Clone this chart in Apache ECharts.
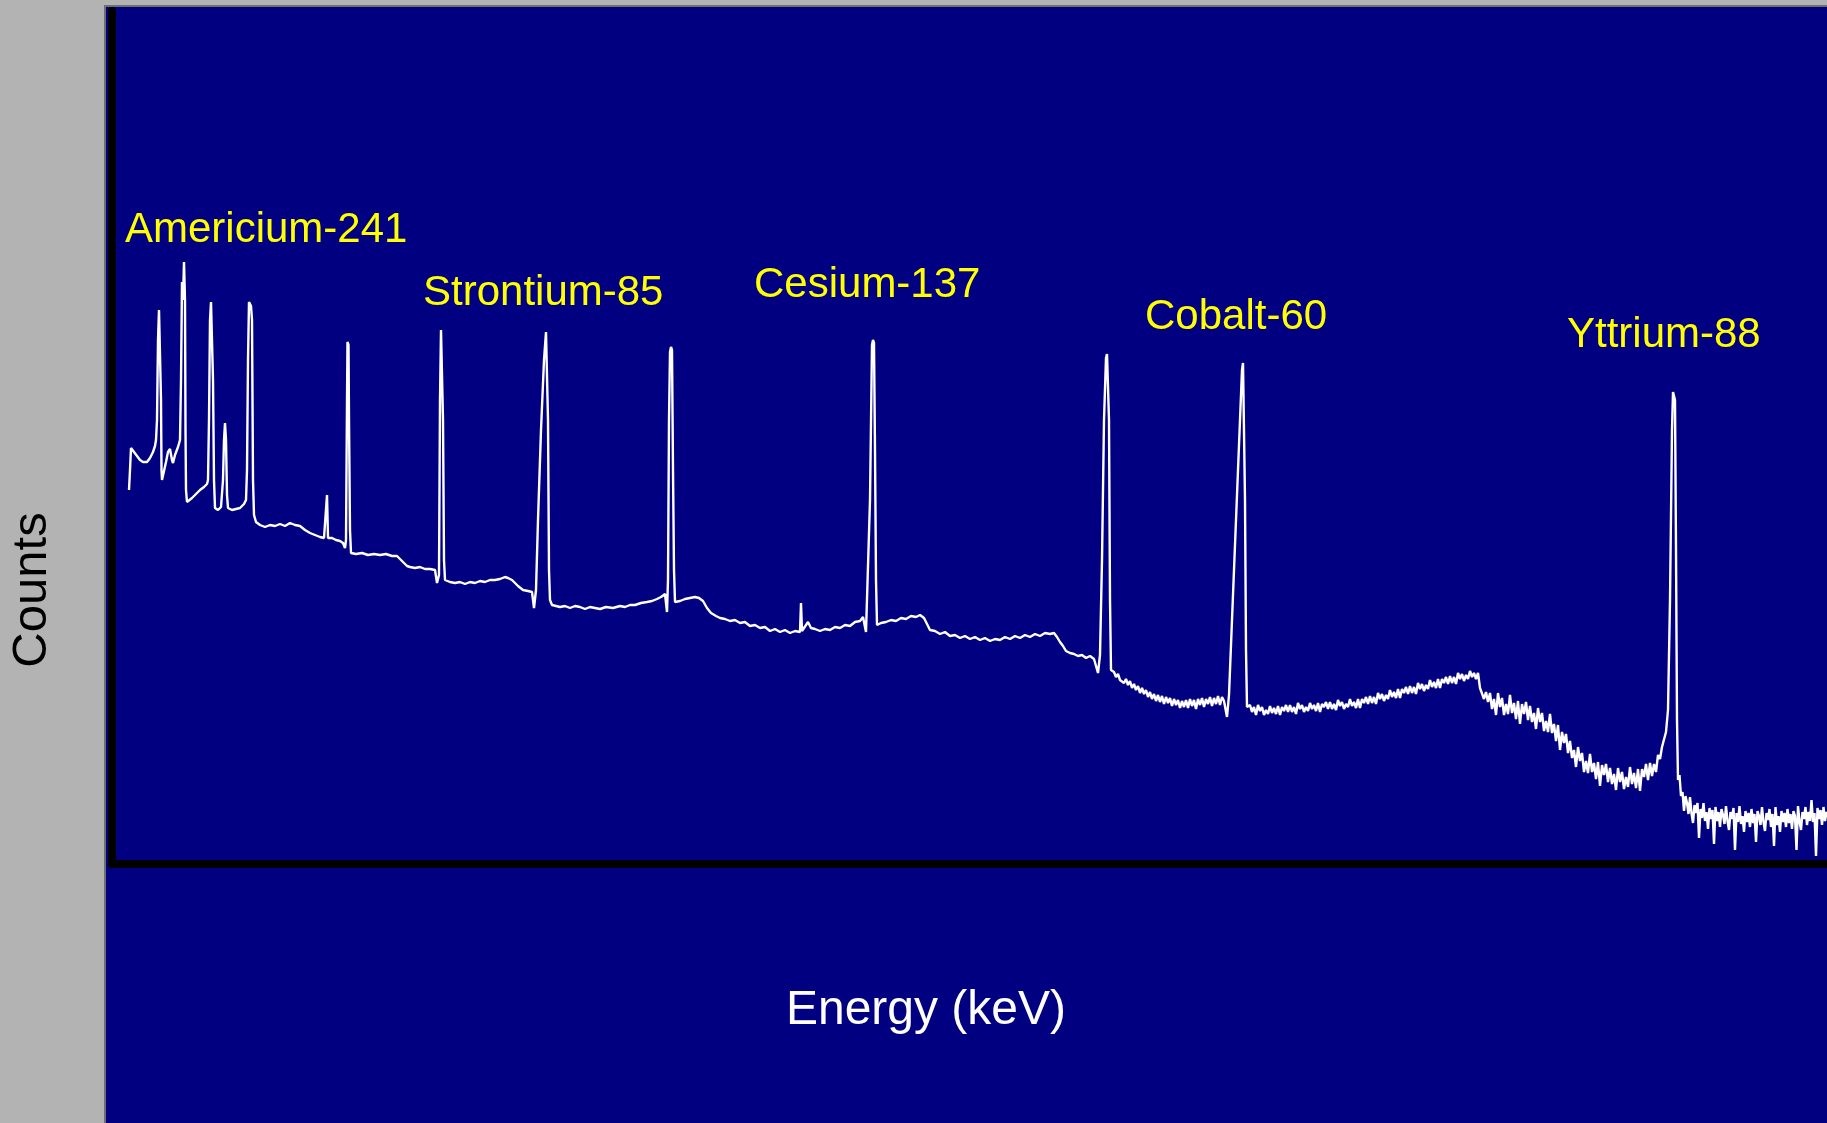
<!DOCTYPE html>
<html><head><meta charset="utf-8">
<script src="https://cdn.jsdelivr.net/npm/echarts@6/dist/echarts.min.js"></script>
<style>html,body{margin:0;padding:0;background:#b3b3b3;overflow:hidden}#chart{width:1827px;height:1123px;}</style>
</head><body><div id="chart"></div>
<script>
// Spectrum: [channel, relative counts]
const lowEnergy = [[17,374],[18,394],[19,416],[22,412],[25,408],[28,404],[31,402],[35,402],[38,406],[41,412],[43,418],[44,424],[45,444],[46,524],[47,554],[48,552],[49,464],[49.5,394],[50,384],[52,386],[54,402],[56,412],[58,415],[60,404],[61,401],[63,409],[66,417],[68,424],[69,484],[70,582],[71,564],[72,602],[73,564],[73.5,434],[74,374],[75,362],[77,361],[80,366],[84,370],[88,374],[92,377],[95,380],[96,384],[97,444],[98,544],[99,562],[100,562],[101,484],[102,384],[103,356],[106,354],[109,357],[111,384],[112,424],[113,441],[114,424],[115,369],[116,356],[120,354],[124,355],[128,356],[132,360],[134,364],[135,394],[136,504],[137,562],[138,563],[139,558],[140,544],[141,384],[142,349],[144,342],[148,339],[153,337],[158,339],[163,338],[168,340],[173,338],[178,341],[183,339],[188,338],[193,334],[198,331],[203,329],[208,327],[212,326],[214,327],[215,369],[216,326],[220,326],[224,324],[228,323],[231,321],[233,316],[234,324],[235,464],[235.5,522],[236.5,519],[237,444],[238,334],[239,311]];

const midEnergy = [[244,310],[250,311],[256,309],[262,310],[268,309],[274,310],[280,308],[285,308],[288,305],[291,302],[295,298],[298,297],[303,296],[308,297],[313,295],[318,295],[323,294],[325,281],[327,289],[328,464],[329,534],[330,532],[331,444],[332,304],[333,284],[338,282],[343,281],[348,282],[353,280],[358,282],[363,281],[368,283],[373,282],[378,284],[383,284],[388,285],[393,287],[396,286],[400,284],[403,281],[406,278],[411,274],[416,273],[420,272],[422,256],[424,274],[426,344],[429,434],[432,504],[434,532],[435,530],[436,444],[437,294],[438,264],[440,259],[444,258],[448,257],[453,258],[458,256],[463,258],[468,257],[473,255],[478,257],[483,256],[488,255],[494,257],[501,256],[508,258],[513,257],[518,259],[523,259],[529,261],[535,262],[540,263],[545,265],[549,267],[553,270],[555,252],[556,284],[557,444],[558,512],[559,517],[560,514],[561,394],[562,294],[563,262],[568,263],[573,265],[578,266],[583,267],[587,266],[591,263],[595,256],[599,251],[604,248],[608,246],
[613,245],[618,243],[623,244],[628,241],[633,242],[638,238],[643,239],[648,236],[653,237],[658,233],[663,235],[668,232],[673,234],[678,231],[683,233],[688,232],[689,261],[690,233],[694,239],[696,242],[699,236],[703,235],[708,233],[713,235],[718,234],[723,237],[728,236],[733,239],[738,238],[743,242],[748,243],[751,247],[754,232],[756,234],[758,364],[760,519],[761,524],[762,521],[763,414],[764,284],[765,239],[769,241],[774,242],[779,244],[784,243],[789,246],[794,245],[799,248],[804,247],[808,249],[812,246],[815,240],[818,234],[823,233],[828,230],[833,232],[838,228],[843,229],[848,226],[853,228],[858,225],[863,227],[868,224],[873,226],[878,223],[883,225],[888,224],[893,227],[898,225],[903,228],[908,226],[913,229],[918,227],[923,230],[928,228],[933,231],[938,230],[942,231],[945,227],[948,222],[951,218],[954,213],[958,211],[962,210],[966,208],[970,209],[974,206],[978,208],[982,205],[984,207],[986,191],[988,209],[990,304],[992,444],[994,506],[995,510],[996,508],[997,444],[998,264],[999,194]];

const highEnergy = [[1002,192],[1004,187],[1006,190],[1008,184],[1010,186],[1012,181],[1014,185],[1016,179],[1018,183],[1020,176],[1022,180],[1024,174],[1026,178],[1028,171],[1030,176],[1032,170],[1034,174],[1036,167],[1038,172],[1040,165],[1042,170],[1044,163],[1046,169],[1048,162],[1050,168],[1052,160],[1054,167],[1056,161],[1058,166],[1060,158],[1062,165],[1064,159],[1066,164],[1068,156],[1070,163],[1072,157],[1074,164],[1076,156],[1078,165],[1080,158],[1082,164],[1084,155],[1086,165],[1088,159],[1090,166],[1092,157],[1094,165],[1096,160],[1098,167],[1100,158],[1102,166],[1104,160],[1106,168],[1108,159],[1110,167],[1112,163],[1115,147],[1117,169],[1120,244],[1124,344],[1128,444],[1130,494],[1131,501],[1132,499],[1133,364],[1134,214],[1135,157],
[1138,159],[1140,152],[1142,157],[1144,149],[1146,159],[1148,153],[1150,157],[1152,149],[1154,154],[1156,150],[1158,158],[1160,151],[1162,156],[1164,150],[1166,158],[1168,149],[1170,157],[1172,153],[1174,159],[1176,152],[1178,159],[1180,152],[1182,157],[1184,150],[1186,161],[1188,155],[1190,159],[1192,152],[1194,157],[1196,153],[1198,161],[1200,155],[1202,159],[1204,153],[1206,161],[1208,152],[1210,160],[1212,157],[1214,162],[1216,155],[1218,162],[1220,155],[1222,160],[1224,154],[1226,164],[1228,158],[1230,162],[1232,155],[1234,160],[1236,157],[1238,165],[1240,158],[1242,162],[1244,156],[1246,165],[1248,156],[1250,165],[1252,161],[1254,167],[1256,160],[1258,168],[1260,161],[1262,167],[1264,160],[1266,171],[1268,165],[1270,170],[1272,163],[1274,169],[1276,165],[1278,174],[1280,167],[1282,172],[1284,166],[1286,175],[1288,166],[1290,175],[1292,171],[1294,177],[1296,170],[1298,178],[1300,171],[1302,177],[1304,170],[1306,181],[1308,175],[1310,180],[1312,173],[1314,179],[1316,175],[1318,184],[1320,177],[1322,182],[1324,176],[1326,185],[1328,176],[1330,185],[1332,181],[1334,187],[1336,180],[1338,188],[1340,181],[1342,187],[1344,180],[1346,191],[1348,185],[1350,190],[1352,183],[1354,189],[1356,185],[1358,193],[1360,187],[1362,191],[1364,185],[1366,191],[1368,176],[1370,176],[1372,165],[1374,172],[1376,162],
[1378,171],[1380,155],[1382,165],[1384,149],[1386,171],[1388,157],[1390,166],[1392,149],[1394,160],[1396,150],[1398,169],[1400,151],[1402,161],[1404,145],[1406,163],[1408,140],[1410,160],[1412,150],[1414,162],[1416,144],[1418,158],[1420,142],[1422,151],[1424,135],[1426,156],[1428,142],[1430,151],[1432,133],[1434,143],[1436,132],[1438,150],[1440,131],[1442,140],[1444,123],[1446,139],[1448,114],[1450,132],[1452,121],[1454,130],[1456,111],[1458,123],[1460,106],[1462,114],[1464,97],[1466,117],[1468,103],[1470,111],[1472,92],[1474,103],[1476,91],[1478,110],[1480,92],[1482,101],[1484,85],[1486,102],[1488,78],[1490,99],[1492,89],[1494,100],[1496,82],[1498,96],[1500,80],[1502,90],[1504,74],[1506,96],[1508,82],[1510,92],[1512,75],[1514,87],[1516,77],[1518,97],[1520,80],[1522,91],[1524,76],[1526,95],[1528,73],[1530,95],[1532,87],[1534,100],[1536,84],[1538,101],[1540,88],[1542,100],[1544,92],[1546,109],[1548,105],[1550,117],[1552,117],[1554,132]];

const tailEnergy = [[1556,154],[1558,264],[1560,434],[1561,472],[1562,473],[1563,464],[1564,314],[1565,144],[1566,84],[1567.5,89],[1569,68],[1570.5,72],[1572,53],[1573.5,68],[1575,61],[1576.5,50],[1578,67],[1579.5,51],[1581,41],[1582.5,59],[1584,51],[1585.5,61],[1587,26],[1588.5,55],[1590,46],[1591.5,61],[1593,43],[1594.5,52],[1596,35],[1597.5,56],[1599,45],[1600.5,54],[1602,20],[1603.5,57],[1605,43],[1606.5,52],[1608,37],[1609.5,55],[1611,49],[1612.5,40],[1614,58],[1615.5,43],[1617,34],[1618.5,52],[1620,45],[1621.5,56],[1623,14],[1624.5,51],[1626,42],[1627.5,58],[1629,40],[1630.5,48],[1632,32],[1633.5,53],[1635,42],[1636.5,51],[1638,37],[1639.5,55],[1641,41],[1642.5,50],[1644,22],[1645.5,53],[1647,48],[1648.5,39],[1650,57],[1651.5,42],[1653,33],[1654.5,51],[1656,44],[1657.5,55],[1659,37],[1660.5,50],[1662,18],[1663.5,57],[1665,39],[1666.5,48],[1668,32],[1669.5,53],[1671,42],[1672.5,51],[1674,37],[1675.5,55],[1677,41],[1678.5,50],[1680,35],[1681.5,53],[1683,48],[1684.5,14],[1686,58],[1687.5,43],[1689,34],[1690.5,52],[1692,45],[1693.5,57],[1695,39],[1696.5,52],[1698,43],[1699.5,64],[1701,42],[1702.5,51],[1704,8],[1705.5,56],[1707,45],[1708.5,54],[1710,39],[1711.5,57],[1713,43],[1714.5,52],[1715,47]];

const isotopeLabels = ['Americium-241','Strontium-85','Cesium-137','Cobalt-60','Yttrium-88'];
const xTitle = 'Energy (keV)';
const yTitle = 'Counts';

const spectrum = lowEnergy.concat(midEnergy, highEnergy, tailEnergy);
const labelAnchors = [[125,230],[423,293],[754,285],[1145,317],[1567,335]];
const FONT = '"Liberation Sans", Arial, Helvetica, sans-serif';

const graphics = [
  {type:'rect', z:-100, silent:true, shape:{x:105,y:6,width:1740,height:1130}, style:{fill:'#000080', stroke:'#6f6f6f', lineWidth:2}},
  {type:'text', z:100, x:32, y:590, rotation:Math.PI/2, style:{text:yTitle, fill:'#000000', font:'49px ' + FONT, textAlign:'center', verticalAlign:'middle'}},
  {type:'text', z:100, x:926, y:1011, style:{text:xTitle, fill:'#ffffff', font:'48px ' + FONT, textAlign:'center', verticalAlign:'middle'}}
];
isotopeLabels.forEach(function(name, i){
  graphics.push({type:'text', z:100, x:labelAnchors[i][0], y:labelAnchors[i][1],
    style:{text:name, fill:'#ffff00', font:'42px ' + FONT, textAlign:'left', verticalAlign:'middle'}});
});

const chart = echarts.init(document.getElementById('chart'), null, {renderer:'canvas'});
chart.setOption({
  animation:false,
  backgroundColor:'#b3b3b3',
  grid:{left:112, right:0, top:11, bottom:259, containLabel:false},
  xAxis:{type:'value', min:0, max:1715,
    axisLine:{show:true, onZero:false, lineStyle:{color:'#000000', width:8}},
    axisTick:{show:false}, axisLabel:{show:false}, splitLine:{show:false}},
  yAxis:{type:'value', min:0, max:853,
    axisLine:{show:true, onZero:false, lineStyle:{color:'#000000', width:8}},
    axisTick:{show:false}, axisLabel:{show:false}, splitLine:{show:false}},
  graphic:graphics,
  series:[{type:'line', data:spectrum, symbol:'none', showSymbol:false, sampling:null,
    lineStyle:{color:'#ffffff', width:2.4}, z:3, silent:true}]
});
</script>
</body></html>
